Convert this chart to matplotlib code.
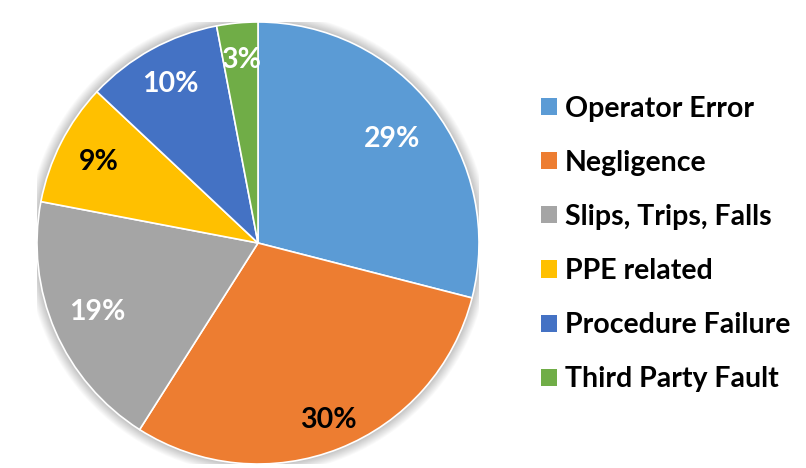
import matplotlib
matplotlib.use("Agg")
import matplotlib.pyplot as plt
from matplotlib.patches import Circle, Patch
import numpy as np

# data
causes = ["Operator Error", "Negligence", "Slips, Trips, Falls",
          "PPE related", "Procedure Failure", "Third Party Fault"]
shares = [29, 30, 19, 9, 10, 3]
colors = ["#5B9BD5", "#ED7D31", "#A5A5A5", "#FFC000", "#4472C4", "#70AD47"]
label_colors = ["white", "black", "white", "black", "white", "white"]
label_dist = [0.77, 0.86, 0.79, 0.81, 0.82, 0.83]

plt.rcParams["font.family"] = ["Lato", "DejaVu Sans"]

fig = plt.figure(figsize=(8.06, 4.68), dpi=100)
W, H = 806, 468
cx, cy, r = 258, 243, 221
ax = fig.add_axes([(cx - r) / W, (H - cy - r) / H, 2 * r / W, 2 * r / H])

# soft shadow round the pie
for i in range(12):
    ax.add_patch(Circle((0, 0), 1.0 + 0.004 * (i + 1), color="black",
                        alpha=0.018, lw=0, zorder=0))

wedges, _ = ax.pie(shares, colors=colors, startangle=90, counterclock=False,
                   wedgeprops=dict(edgecolor="white", linewidth=1.2),
                   radius=1.0)

total = float(sum(shares))
start = 90.0
for val, col, d in zip(shares, label_colors, label_dist):
    mid = start - val / total * 360 / 2
    start -= val / total * 360
    ax.text(d * np.cos(np.radians(mid)), d * np.sin(np.radians(mid)),
            f"{val}%", ha="center", va="center", color=col,
            fontsize=20.5, fontweight="bold")

ax.set_xlim(-1, 1)
ax.set_ylim(-1, 1)
ax.set_aspect("equal")
ax.axis("off")

handles = [Patch(facecolor=c, edgecolor="none") for c in colors]
fig.legend(handles, causes, loc="center left",
           bbox_to_anchor=(541 / W, (H - 244) / H), frameon=False,
           prop=dict(size=20.5, weight="bold"), borderpad=0, borderaxespad=0,
           handlelength=0.55, handleheight=0.55, handletextpad=0.3,
           labelspacing=0.99)

fig.savefig("out.png", dpi=100)
